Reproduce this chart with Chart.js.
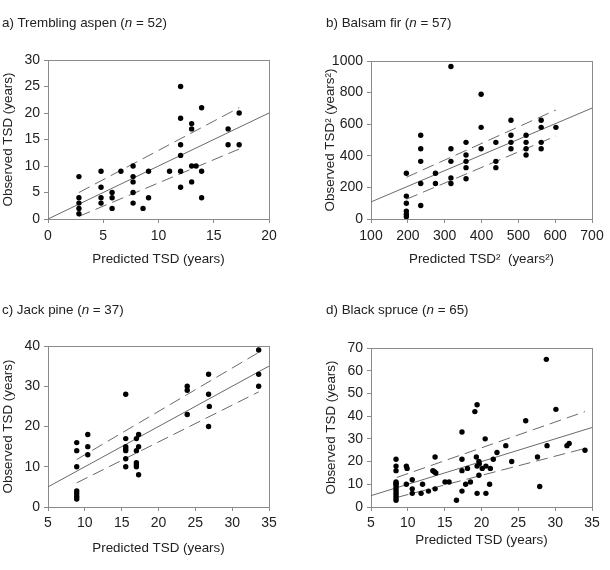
<!DOCTYPE html>
<html>
<head>
<meta charset="utf-8">
<script src="https://cdn.jsdelivr.net/npm/chart.js@4.4.0/dist/chart.umd.min.js"></script>
<style>
  body { margin: 0; width: 610px; height: 570px; background: #fff; position: relative; overflow: hidden; font-family: 'Liberation Sans', Arial, sans-serif; }
  canvas { position: absolute; }
  .title { position: absolute; font-size: 13.4px; line-height: 16px; color: #222; white-space: nowrap; z-index: 2; }
</style>
</head>
<body>
<canvas id="chartA" width="300" height="280" style="left:0;top:0"></canvas>
<canvas id="chartB" width="310" height="280" style="left:300px;top:0"></canvas>
<canvas id="chartC" width="300" height="290" style="left:0;top:280px"></canvas>
<canvas id="chartD" width="310" height="290" style="left:300px;top:280px"></canvas>

<div class="title" style="left:2px;top:15px">a) Trembling aspen (<i>n</i> = 52)</div>
<div class="title" style="left:326px;top:15px">b) Balsam fir (<i>n</i> = 57)</div>
<div class="title" style="left:2px;top:302px">c) Jack pine (<i>n</i> = 37)</div>
<div class="title" style="left:326px;top:302px">d) Black spruce (<i>n</i> = 65)</div>

<script>
// a) Trembling aspen
const aspenPredicted = [2.8, 2.8, 2.8, 2.8, 2.8, 4.8, 4.8, 4.8, 4.8, 5.8, 5.8, 5.8, 6.6, 7.7, 7.7, 7.7, 7.7, 7.7, 8.6, 9.1, 9.1, 11.0,
  12.0, 12.0, 12.0, 12.0, 12.0, 12.0, 13.0, 13.0, 13.0, 13.0, 13.4, 13.9, 13.9, 13.9, 16.3, 16.3, 17.3, 17.3];
const aspenObserved = [8, 4, 3, 2, 1, 9, 6, 4, 3, 5, 4, 2, 9, 10, 8, 7, 5, 3, 2, 9, 4, 9,
  25, 19, 14, 12, 9, 6, 18, 17, 10, 7, 10, 21, 9, 4, 17, 14, 20, 14];
const aspenLineX = [0, 20];
const aspenLineY = [0, 20];
const aspenUpperX = [2.8, 17.3];
const aspenUpperY = [5.0, 21.0];
const aspenLowerX = [2.8, 17.3];
const aspenLowerY = [0.5, 13.2];

// b) Balsam fir (squared values)
const firPredicted = [196, 196, 196, 196, 196, 196, 235, 235, 235, 235, 235, 275, 275, 317, 317, 317, 317, 317,
  358, 358, 358, 358, 358, 399, 399, 399, 439, 439, 439, 480, 480, 480, 480, 521, 521, 521, 521, 562, 562, 562, 562, 602];
const firObserved = [290, 145, 100, 50, 30, 15, 530, 445, 365, 225, 85, 290, 225, 965, 445, 365, 260, 225,
  485, 405, 365, 325, 255, 790, 580, 445, 485, 365, 325, 625, 530, 485, 445, 530, 485, 445, 405, 625, 580, 485, 445, 580];
const firLineX = [100, 700];
const firLineY = [108, 702];
const firUpperX = [196, 602];
const firUpperY = [264, 690];
const firLowerX = [196, 602];
const firLowerY = [125, 525];

// c) Jack pine
const pinePredicted = [8.9, 8.9, 8.9, 8.9, 8.9, 8.9, 8.9, 10.4, 10.4, 10.4, 15.55, 15.55, 15.55, 15.55, 15.55, 15.55, 15.55,
  17.0, 17.0, 17.0, 17.0, 17.0, 17.3, 17.3, 17.3, 23.9, 23.9, 23.9, 26.8, 26.8, 26.8, 26.9, 33.6, 33.6, 33.6];
const pineObserved = [16, 14, 10, 4, 3.3, 2.6, 2, 18, 15, 13, 28, 17, 15, 14.5, 14, 12, 10,
  17, 14, 11, 10.5, 10, 18, 15, 8, 30, 29, 23, 33, 28, 20, 25, 39, 33, 30];
const pineLineX = [5, 35];
const pineLineY = [5, 35];
const pineUpperX = [8.9, 33.6];
const pineUpperY = [11.8, 38.4];
const pineLowerX = [8.9, 33.6];
const pineLowerY = [6.0, 28.6];

// d) Black spruce
const sprucePredicted = [8.4, 8.4, 8.4, 8.4, 8.4, 8.4, 8.4, 8.4, 8.4, 8.4, 8.4, 8.4, 8.4, 9.8, 9.9, 9.8, 10.6, 10.6, 10.6,
  11.8, 12.0, 12.8, 13.4, 13.6, 13.7, 13.8, 13.7, 15.05, 15.6, 16.6, 17.35, 17.35, 17.35, 17.35, 17.85, 18.1, 18.5,
  19.1, 19.3, 19.4, 19.4, 19.4, 19.65, 19.7, 19.65, 20.1, 20.5, 20.6, 20.6, 21.2, 21.1, 21.6, 22.1, 23.3, 24.1,
  26.0, 27.6, 27.9, 28.8, 28.9, 30.1, 31.6, 31.9, 34.05];
const spruceObserved = [21, 18, 16, 11, 10.5, 10, 9, 8, 7, 6, 5, 4, 3, 18, 17, 10, 12, 8, 6,
  6, 10, 7, 16, 15.5, 22, 15, 8, 11, 11, 3, 33, 21, 16, 7, 10, 17, 11,
  42, 22, 45, 18, 6, 20, 19, 14, 17, 30, 18, 6, 17, 10, 21, 24, 27, 20,
  38, 22, 9, 65, 27, 43, 27, 28, 25];
const spruceLineX = [5, 35];
const spruceLineY = [5, 35];
const spruceUpperX = [8.5, 34.05];
const spruceUpperY = [13.0, 42.0];
const spruceLowerX = [8.5, 34.05];
const spruceLowerY = [4.2, 25.8];

Chart.defaults.font.family = "'Liberation Sans', Arial, sans-serif";
Chart.defaults.color = '#222';

const axisGray = '#8a8a8a';
const lineGray = '#6a6a6a';

function toPoints(xs, ys) {
  return xs.map((x, i) => ({ x: x, y: ys[i] }));
}

// draws the top and right sides of the plot frame
const frameBox = {
  id: 'frameBox',
  beforeDatasetsDraw(chart) {
    const { ctx, chartArea: a } = chart;
    ctx.save();
    ctx.strokeStyle = axisGray;
    ctx.lineWidth = 1;
    ctx.strokeRect(Math.round(a.left) + 0.5, Math.round(a.top) + 0.5, Math.round(a.right - a.left), Math.round(a.bottom - a.top));
    ctx.restore();
  }
};

function makePanel(id, p) {
  const ctx = document.getElementById(id).getContext('2d');
  return new Chart(ctx, {
    type: 'scatter',
    data: {
      datasets: [{
        data: toPoints(p.px, p.py),
        backgroundColor: '#000',
        borderColor: '#000',
        borderWidth: 0,
        pointRadius: 2.7
      }, {
        data: toPoints(p.lineX, p.lineY),
        showLine: true,
        borderColor: lineGray,
        borderWidth: 1,
        pointRadius: 0
      }, {
        data: toPoints(p.upX, p.upY),
        showLine: true,
        borderColor: lineGray,
        borderWidth: 1,
        borderDash: [12, 6],
        pointRadius: 0
      }, {
        data: toPoints(p.loX, p.loY),
        showLine: true,
        borderColor: lineGray,
        borderWidth: 1,
        borderDash: [12, 6],
        pointRadius: 0
      }]
    },
    options: {
      responsive: false,
      animation: false,
      layout: { padding: { top: p.top, right: p.right, left: 0, bottom: 0 } },
      plugins: { legend: { display: false }, tooltip: { enabled: false } },
      scales: {
        x: {
          type: 'linear',
          min: p.xMin, max: p.xMax,
          afterFit: s => { s.height = p.xHeight; },
          grid: { drawOnChartArea: false, drawTicks: true, tickLength: 4, color: axisGray },
          border: { display: true, color: axisGray },
          ticks: { stepSize: p.xStep, autoSkip: false, maxRotation: 0, padding: p.xTickPad, font: { size: 14 }, callback: v => String(v) },
          title: { display: true, text: p.xTitle, font: { size: 13.4 }, padding: { top: 0, bottom: p.xTitlePad } }
        },
        y: {
          type: 'linear',
          min: p.yMin, max: p.yMax,
          afterFit: s => { s.width = p.yWidth; },
          grid: { drawOnChartArea: false, drawTicks: true, tickLength: 4, color: axisGray },
          border: { display: true, color: axisGray },
          ticks: { stepSize: p.yStep, autoSkip: false, padding: 4, font: { size: 14 }, callback: v => String(v) },
          title: { display: true, text: p.yTitle, font: { size: 13.4 }, padding: { top: p.yTitlePad, bottom: 0 } }
        }
      }
    },
    plugins: [frameBox]
  });
}

makePanel('chartA', {
  px: aspenPredicted, py: aspenObserved,
  lineX: aspenLineX, lineY: aspenLineY,
  upX: aspenUpperX, upY: aspenUpperY, loX: aspenLowerX, loY: aspenLowerY,
  xMin: 0, xMax: 20, xStep: 5, yMin: 0, yMax: 30, yStep: 5,
  xTitle: 'Predicted TSD (years)', yTitle: 'Observed TSD (years)',
  top: 60, right: 31, xHeight: 61, yWidth: 48,
  xTickPad: 5, xTitlePad: 13, yTitlePad: 0
});

makePanel('chartB', {
  px: firPredicted, py: firObserved,
  lineX: firLineX, lineY: firLineY,
  upX: firUpperX, upY: firUpperY, loX: firLowerX, loY: firLowerY,
  xMin: 100, xMax: 700, xStep: 100, yMin: 0, yMax: 1000, yStep: 200,
  xTitle: 'Predicted TSD\u00B2  (years\u00B2)', yTitle: 'Observed TSD\u00B2 (years\u00B2)',
  top: 61, right: 18, xHeight: 61, yWidth: 71,
  xTickPad: 5, xTitlePad: 13, yTitlePad: 22
});

makePanel('chartC', {
  px: pinePredicted, py: pineObserved,
  lineX: pineLineX, lineY: pineLineY,
  upX: pineUpperX, upY: pineUpperY, loX: pineLowerX, loY: pineLowerY,
  xMin: 5, xMax: 35, xStep: 5, yMin: 0, yMax: 40, yStep: 10,
  xTitle: 'Predicted TSD (years)', yTitle: 'Observed TSD (years)',
  top: 66, right: 31, xHeight: 63, yWidth: 48,
  xTickPad: 4, xTitlePad: 14, yTitlePad: 0
});

makePanel('chartD', {
  px: sprucePredicted, py: spruceObserved,
  lineX: spruceLineX, lineY: spruceLineY,
  upX: spruceUpperX, upY: spruceUpperY, loX: spruceLowerX, loY: spruceLowerY,
  xMin: 5, xMax: 35, xStep: 5, yMin: 0, yMax: 70, yStep: 10,
  xTitle: 'Predicted TSD (years)', yTitle: 'Observed TSD (years)',
  top: 68, right: 18, xHeight: 63, yWidth: 71,
  xTickPad: 4, xTitlePad: 22, yTitlePad: 23
});
</script>
</body>
</html>
